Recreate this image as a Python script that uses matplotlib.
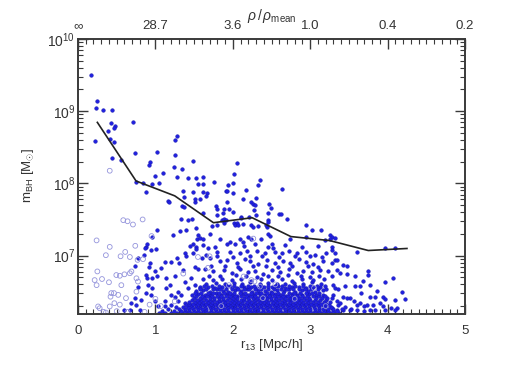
import matplotlib
matplotlib.use("Agg")
import matplotlib.pyplot as plt
from matplotlib.ticker import MultipleLocator, LogLocator, NullFormatter

plt.rcParams['font.family'] = ['Liberation Sans', 'DejaVu Sans']
plt.rcParams['mathtext.fontset'] = 'custom'
plt.rcParams['mathtext.rm'] = 'Liberation Sans'
plt.rcParams['mathtext.it'] = 'Liberation Sans:italic'
plt.rcParams['mathtext.bf'] = 'Liberation Sans:bold'

# ---------------- data ----------------
# median line (r13 bins, log10 m_BH)
line_r = [0.25, 0.75, 1.25, 1.75, 2.25, 2.75, 3.25, 3.75, 4.25]
line_logm = [8.845, 8.033, 7.827, 7.455, 7.524, 7.263, 7.208, 7.07, 7.098]

# top axis (overdensity) tick labels
top_ticks = [0, 1, 2, 3, 4, 5]
top_labels = ['\u221e', '28.7', '3.6', '1.0', '0.4', '0.2']

# sparse filled points (r13, log10 m)
sparse_r = [
    0.17, 0.25, 0.23, 0.32, 0.44, 0.43, 0.48, 0.465, 0.39, 0.71, 0.225, 0.41, 0.47,
    0.435, 0.56, 0.74, 1.25, 1.275, 1.015, 1.255, 0.93, 0.92, 1.235, 1.35, 1.48, 1.10,
    0.99, 1.28, 1.42, 1.53,
    0.75, 0.84, 0.88, 0.955, 1.045, 1.36, 1.49, 1.55, 1.16, 1.17, 1.37, 1.35, 1.37,
    1.51, 1.51, 1.42, 1.33, 1.47, 1.40, 1.32, 1.02, 1.53, 1.555, 1.23, 1.54, 1.485,
    1.45, 1.53, 0.875, 0.95, 0.89, 0.86, 0.94, 1.01, 0.85, 0.77, 0.73, 0.925, 0.92,
    1.12, 1.07, 1.0, 0.88, 0.895, 0.955, 1.02, 0.775, 0.91, 0.96, 0.88, 0.94, 0.73,
    0.82, 0.69, 0.755, 0.60, 0.67, 0.795, 0.99, 1.03, 1.13, 1.13, 1.205, 1.185, 1.14,
    1.14, 1.25, 1.20, 1.28, 1.31, 1.36, 1.38, 1.40, 1.485, 1.53, 1.51, 1.55, 1.46,
    1.38, 1.42, 1.51, 1.57, 1.29, 1.33, 1.25, 1.205, 1.29, 1.38,
    2.05, 2.02, 2.355, 2.33, 2.63, 1.76, 1.61, 1.62, 1.94, 2.0, 1.61, 1.67, 1.91,
    1.93, 2.0, 2.17, 2.13, 2.30, 1.66, 1.57, 1.92, 2.23, 2.26, 2.29, 2.47, 2.49,
    1.78, 1.80, 1.89, 1.95, 2.0, 2.27, 1.87, 2.46, 2.60, 2.62, 2.30, 1.61, 2.70,
    2.10, 2.11, 2.21, 1.79, 2.455, 2.46, 1.86, 1.89, 1.91, 2.01, 2.05,
    2.03, 2.07, 2.135, 2.24, 2.33, 2.44, 2.43, 2.26, 1.88, 1.73, 1.79, 2.45, 2.48,
    2.37, 2.29, 2.95, 2.95, 3.02, 3.135, 3.26, 3.28, 3.32, 3.26, 3.28, 2.74, 2.51,
    2.52, 3.19, 1.70, 1.83, 1.92, 2.03, 2.135, 2.24, 1.62, 1.77, 1.58, 1.62, 1.96,
    2.09, 2.19, 1.68,
    1.96, 2.09, 2.18, 2.31, 2.42, 2.55, 2.63, 2.72, 2.83, 2.95, 3.06, 3.21, 3.32,
    1.79, 1.66, 1.60,
    1.70, 1.83, 1.92, 2.05, 2.16, 2.22, 2.33, 2.44, 2.55, 2.65, 2.74, 2.85, 2.95,
    3.04, 3.17, 3.28,
    1.64, 1.75, 1.88, 1.985, 2.09, 2.20, 2.29, 2.39, 2.50, 2.61, 2.72, 2.83, 2.91,
    3.02, 3.13, 3.23,
    3.97, 4.09, 3.60, 3.28, 3.32, 3.34, 3.43, 3.47, 3.35, 3.38, 3.48, 3.28, 3.75,
    3.75, 3.58, 4.07, 3.96, 3.68, 3.77, 3.45, 3.58, 3.64, 3.30, 3.32, 3.36, 3.86,
    4.19, 3.65, 3.77, 3.84, 3.94, 3.97, 4.10, 4.22, 3.51, 3.47, 3.43, 3.30, 3.28,
    3.34, 3.36, 3.38, 3.56, 3.60, 3.64, 3.69, 3.73, 3.815, 3.90, 3.94, 4.05, 4.12,
    3.43, 3.51, 3.60, 3.69, 3.77, 3.84, 3.28, 3.34, 4.10, 3.97,
]
sparse_logm = [
    9.50, 9.14, 9.04, 9.01, 9.02, 8.84, 8.80, 8.77, 8.72, 8.85, 8.59, 8.62, 8.58,
    8.35, 8.33, 8.42, 8.60, 8.65, 8.44, 8.39, 8.30, 8.26, 8.23, 8.20, 8.31, 8.15,
    8.10, 8.09, 8.07, 8.08,
    8.02, 8.005, 7.885, 7.99, 8.0, 7.90, 7.88, 7.99, 7.76, 7.74, 7.81, 7.68, 7.67,
    7.74, 7.785, 7.49, 7.51, 7.51, 7.35, 7.335, 7.35, 7.375, 7.28, 7.28, 7.235, 7.165,
    7.135, 7.12, 7.12, 7.26, 7.165, 7.10, 7.075, 7.09, 7.005, 6.96, 6.86, 6.89, 6.845,
    6.905, 6.83, 6.78, 6.73, 6.695, 6.695, 6.72, 6.57, 6.59, 6.545, 6.48, 6.455, 6.41,
    6.39, 6.34, 6.32, 6.25, 6.25, 6.25, 6.365, 6.295, 6.365, 6.295, 6.32, 6.59, 6.545,
    6.685, 6.71, 6.91, 6.96, 6.89, 6.80, 7.04, 6.995, 7.03, 7.085, 6.845, 6.82, 6.685,
    6.64, 6.545, 6.59, 6.545, 6.50, 6.455, 6.43, 6.455, 6.365, 6.34,
    8.285, 8.13, 8.05, 7.98, 7.92, 8.025, 7.99, 8.085, 7.98, 8.0, 7.88, 7.87, 7.89,
    7.89, 7.87, 7.91, 7.785, 7.80, 7.83, 7.785, 7.74, 7.74, 7.71, 7.70, 7.71, 7.66,
    7.68, 7.65, 7.645, 7.64, 7.61, 7.625, 7.59, 7.59, 7.58, 7.58, 7.565, 7.59, 7.51,
    7.54, 7.525, 7.54, 7.555, 7.49, 7.47, 7.49, 7.50, 7.49, 7.455, 7.455,
    7.43, 7.43, 7.44, 7.43, 7.41, 7.40, 7.42, 7.40, 7.45, 7.41, 7.42, 7.30, 7.27,
    7.225, 7.165, 7.42, 7.26, 7.36, 7.36, 7.28, 7.26, 7.25, 7.225, 7.12, 7.235, 7.165,
    7.11, 7.21, 7.30, 7.225, 7.165, 7.165, 7.19, 7.235, 7.145, 7.12, 7.245, 7.235, 7.19,
    7.235, 7.26, 7.105,
    7.05, 7.03, 7.06, 7.06, 7.03, 7.05, 7.03, 7.06, 7.03, 7.05, 7.01, 7.03, 7.03,
    7.05, 7.005, 6.96,
    6.96, 6.92, 6.94, 6.90, 6.95, 6.92, 6.88, 6.94, 6.90, 6.93, 6.89, 6.95, 6.91,
    6.88, 6.93, 6.90,
    6.82, 6.78, 6.80, 6.76, 6.81, 6.77, 6.79, 6.75, 6.80, 6.77, 6.81, 6.76, 6.79,
    6.77, 6.80, 6.78,
    7.11, 7.10, 7.05, 7.075, 6.94, 6.94, 6.87, 6.85, 6.80, 6.755, 6.74, 6.71, 6.785,
    6.73, 6.71, 6.695, 6.64, 6.65, 6.59, 6.58, 6.585, 6.58, 6.59, 6.545, 6.53, 6.51,
    6.50, 6.48, 6.42, 6.43, 6.43, 6.40, 6.38, 6.395, 6.41, 6.41, 6.43, 6.455, 6.41,
    6.365, 6.32, 6.34, 6.365, 6.32, 6.34, 6.295, 6.32, 6.32, 6.34, 6.295, 6.27, 6.28,
    6.24, 6.24, 6.24, 6.235, 6.24, 6.24, 6.27, 6.25, 6.25, 6.24,
]

# dense lower band: rows of r13 values and each row's log10 m
dense_row_logm = [6.21, 6.235, 6.26, 6.285, 6.31, 6.335, 6.36, 6.385, 6.41,
                  6.435, 6.485, 6.535, 6.585]
dense_row_r = [
    [1.05, 1.12, 1.20, 1.28, 1.35, 1.41, 1.46, 1.52, 1.57, 1.63, 1.69, 1.74, 1.80, 1.85,
     1.91, 1.97, 2.02, 2.08, 2.13, 2.19, 2.25, 2.30, 2.36, 2.41, 2.47, 2.53, 2.58, 2.64,
     2.69, 2.75, 2.81, 2.86, 2.92, 2.97, 3.03, 3.09, 3.14, 3.20, 3.26, 3.31, 3.37],
    [1.08, 1.24, 1.33, 1.38, 1.44, 1.50, 1.55, 1.61, 1.66, 1.72, 1.78, 1.83, 1.89, 1.94,
     2.00, 2.06, 2.11, 2.17, 2.22, 2.28, 2.33, 2.39, 2.45, 2.50, 2.56, 2.61, 2.67, 2.72,
     2.78, 2.84, 2.89, 2.95, 3.00, 3.06, 3.12, 3.18, 3.23, 3.29, 3.35],
    [1.16, 1.31, 1.38, 1.44, 1.49, 1.55, 1.60, 1.66, 1.72, 1.77, 1.83, 1.88, 1.94, 2.00,
     2.05, 2.11, 2.16, 2.22, 2.28, 2.33, 2.39, 2.44, 2.50, 2.56, 2.61, 2.67, 2.72, 2.78,
     2.84, 2.89, 2.95, 3.00, 3.06, 3.12, 3.17, 3.23, 3.30, 3.41, 3.53],
    [1.27, 1.36, 1.42, 1.47, 1.53, 1.58, 1.64, 1.70, 1.75, 1.81, 1.86, 1.92, 1.98, 2.03,
     2.09, 2.14, 2.20, 2.26, 2.31, 2.37, 2.43, 2.48, 2.54, 2.59, 2.65, 2.71, 2.76, 2.82,
     2.87, 2.93, 2.99, 3.05, 3.11, 3.19, 3.27, 3.45],
    [1.40, 1.46, 1.52, 1.58, 1.63, 1.69, 1.75, 1.80, 1.86, 1.91, 1.97, 2.03, 2.08, 2.14,
     2.19, 2.25, 2.31, 2.36, 2.42, 2.47, 2.53, 2.59, 2.64, 2.70, 2.75, 2.81, 2.87, 2.92,
     2.98, 3.04, 3.10, 3.17, 3.24],
    [1.43, 1.49, 1.55, 1.60, 1.66, 1.72, 1.77, 1.83, 1.88, 1.94, 2.00, 2.05, 2.11, 2.17,
     2.22, 2.28, 2.33, 2.39, 2.44, 2.50, 2.56, 2.61, 2.67, 2.73, 2.78, 2.84, 2.90, 2.95,
     3.01, 3.07, 3.14, 3.21],
    [1.44, 1.51, 1.56, 1.62, 1.68, 1.73, 1.79, 1.84, 1.90, 1.96, 2.01, 2.07, 2.12, 2.18,
     2.24, 2.29, 2.35, 2.40, 2.46, 2.52, 2.57, 2.63, 2.68, 2.74, 2.80, 2.85, 2.91, 2.97,
     3.03, 3.10, 3.18, 3.25],
    [1.47, 1.54, 1.59, 1.65, 1.71, 1.76, 1.82, 1.87, 1.93, 1.99, 2.04, 2.10, 2.15, 2.21,
     2.27, 2.32, 2.38, 2.43, 2.49, 2.55, 2.60, 2.66, 2.71, 2.77, 2.83, 2.88, 2.94, 3.00,
     3.06, 3.13, 3.20],
    [1.50, 1.57, 1.63, 1.70, 1.76, 1.82, 1.87, 1.95, 2.00, 2.06, 2.14, 2.20, 2.26, 2.31,
     2.38, 2.44, 2.49, 2.56, 2.62, 2.67, 2.74, 2.79, 2.86, 2.92, 2.99, 3.07, 3.15, 3.22],
    [1.53, 1.60, 1.67, 1.73, 1.79, 1.85, 1.91, 1.97, 2.03, 2.10, 2.17, 2.23, 2.29, 2.35,
     2.41, 2.47, 2.53, 2.59, 2.65, 2.71, 2.77, 2.83, 2.89, 2.96, 3.03, 3.11, 3.19],
    [1.51, 1.59, 1.68, 1.75, 1.82, 1.89, 1.96, 2.02, 2.09, 2.16, 2.23, 2.30, 2.37, 2.44,
     2.51, 2.58, 2.65, 2.72, 2.79, 2.87, 2.94, 3.02, 3.12],
    [1.57, 1.66, 1.74, 1.83, 1.91, 1.99, 2.07, 2.14, 2.21, 2.29, 2.37, 2.45, 2.53, 2.62,
     2.70, 2.78, 2.86, 2.93, 3.01, 3.10, 3.21],
    [1.63, 1.73, 1.82, 1.92, 2.02, 2.10, 2.19, 2.27, 2.36, 2.45, 2.54, 2.63, 2.72, 2.81,
     2.91, 3.00, 3.09, 3.19],
]

# gappier part of the band above it
upper_band_r = [
    1.47, 1.55, 1.64, 1.71, 1.78, 1.85, 1.92, 1.99, 2.05, 2.13, 2.19, 2.27, 2.34, 2.40,
    2.48, 2.55, 2.61, 2.69, 2.76, 2.83, 2.90, 2.98, 3.08, 3.17,
    1.53, 1.62, 1.70, 1.79, 1.87, 1.94, 2.03, 2.10, 2.18, 2.25, 2.33, 2.42, 2.49, 2.57,
    2.66, 2.73, 2.81, 2.89, 2.97, 3.06, 3.16,
    1.58, 1.68, 1.77, 1.86, 1.96, 2.06, 2.14, 2.23, 2.31, 2.40, 2.50, 2.58, 2.67, 2.76,
    2.85, 2.95, 3.04, 3.13,
    1.66, 1.78, 1.90, 2.01, 2.12, 2.22, 2.35, 2.45, 2.57, 2.68, 2.79, 2.91, 3.02, 3.14,
    1.61, 1.74, 1.86, 1.99, 2.10, 2.24, 2.37, 2.51, 2.63, 2.77, 2.90, 3.03, 3.18,
    1.69, 1.83, 2.04, 2.17, 2.31, 2.46, 2.58, 2.71, 2.88, 3.00, 3.12,
    1.72, 1.90, 2.07, 2.26, 2.43, 2.58, 2.77, 2.97, 3.10,
    1.80, 2.00, 2.22, 2.38, 2.60, 2.80, 3.00, 3.15,
    2.15, 2.45, 2.67, 2.90, 3.10,
]
upper_band_logm = [
    6.46, 6.47, 6.45, 6.46, 6.48, 6.45, 6.47, 6.46, 6.44, 6.47, 6.46, 6.45, 6.48, 6.46,
    6.45, 6.47, 6.46, 6.44, 6.47, 6.46, 6.45, 6.47, 6.46, 6.45,
    6.51, 6.52, 6.50, 6.53, 6.51, 6.50, 6.52, 6.51, 6.53, 6.50, 6.52, 6.51, 6.50, 6.52,
    6.51, 6.53, 6.50, 6.52, 6.51, 6.50, 6.52,
    6.56, 6.57, 6.55, 6.56, 6.58, 6.55, 6.57, 6.56, 6.55, 6.57, 6.56, 6.58, 6.55, 6.57,
    6.56, 6.55, 6.57, 6.56,
    6.61, 6.62, 6.60, 6.62, 6.61, 6.63, 6.60, 6.62, 6.61, 6.60, 6.62, 6.61, 6.63, 6.60,
    6.67, 6.66, 6.68, 6.66, 6.67, 6.65, 6.68, 6.66, 6.67, 6.65, 6.68, 6.66, 6.67,
    6.72, 6.71, 6.73, 6.72, 6.70, 6.72, 6.71, 6.73, 6.72, 6.70, 6.72,
    6.85, 6.86, 6.84, 6.86, 6.85, 6.84, 6.86, 6.85, 6.84,
    6.99, 6.98, 7.00, 6.99, 6.98, 7.00, 6.99, 6.98,
    7.13, 7.12, 7.14, 7.12, 7.13,
]

# open (light) circles
open_r = [
    0.41, 0.585, 0.64, 0.71, 0.835, 0.95, 0.24, 0.74, 0.41, 0.36, 0.55, 0.61, 0.67,
    0.77, 0.84, 0.25, 0.215, 0.24, 0.31, 0.40, 0.495, 0.54, 0.60, 0.67, 0.56, 0.69,
    0.755, 0.775, 0.43, 0.465, 0.52, 0.42, 0.62, 0.47, 0.41, 0.54, 0.26, 0.28, 0.755,
    1.07, 0.925, 1.25, 2.265, 0.33, 0.36, 0.50, 0.64, 0.86, 1.00, 1.70, 1.68, 2.14,
    2.24, 2.28, 2.39, 1.95, 2.35, 1.55, 1.36, 1.85, 2.55, 2.80, 3.05, 3.20,
]
open_logm = [
    8.175, 7.49, 7.475, 7.43, 7.50, 7.27, 7.21, 7.135, 7.12, 7.005, 6.99, 7.05, 6.98,
    6.94, 6.95, 6.78, 6.66, 6.59, 6.675, 6.63, 6.73, 6.72, 6.74, 6.755, 6.59, 6.78,
    6.685, 6.64, 6.48, 6.48, 6.455, 6.43, 6.41, 6.34, 6.295, 6.32, 6.295, 6.27, 6.50,
    6.30, 6.32, 6.365, 7.235, 6.22, 6.21, 6.23, 6.22, 6.22, 6.40, 6.99, 6.83, 6.71,
    6.66, 6.64, 6.41, 6.59, 6.57, 6.98, 6.75, 6.30, 6.60, 6.40, 6.55, 6.30,
]

# ---------------- figure ----------------
fig = plt.figure(figsize=(5.18, 3.70), dpi=100)
ax = fig.add_axes([78/518, 1-314/370, (465-78)/518, (314-39)/370])

fill_r = list(sparse_r) + list(upper_band_r)
fill_m = [10**v for v in sparse_logm] + [10**v for v in upper_band_logm]
for row_r, lv in zip(dense_row_r, dense_row_logm):
    fill_r.extend(row_r)
    fill_m.extend([10**lv] * len(row_r))

ax.scatter(fill_r, fill_m, s=7, c='#2020e0', edgecolors='#1515a8',
           linewidths=0.3, zorder=2)
ax.scatter(open_r, [10**v for v in open_logm], s=12, facecolors='none',
           edgecolors='#9494dc', linewidths=0.6, zorder=3)
ax.plot(line_r, [10**v for v in line_logm], color='#222222', lw=1.2, zorder=4)

ax.set_yscale('log')
ax.set_xlim(0, 5)
ax.set_ylim(1.55e6, 1e10)

frame_col = '#3a3a3a'
for sp in ax.spines.values():
    sp.set_color(frame_col)
    sp.set_linewidth(1.2)

ax.xaxis.set_major_locator(MultipleLocator(1))
ax.xaxis.set_minor_locator(MultipleLocator(0.1))
ax.yaxis.set_major_locator(LogLocator(base=10, numticks=10))
ax.yaxis.set_minor_locator(LogLocator(base=10, subs=range(2, 10), numticks=20))
ax.yaxis.set_minor_formatter(NullFormatter())
ax.tick_params(axis='both', which='major', direction='in', length=7, width=1,
               color=frame_col, labelcolor='#333333', labelsize=9.5)
ax.tick_params(axis='both', which='minor', direction='in', length=3.5, width=0.8,
               color=frame_col)
ax.tick_params(axis='y', which='both', left=True, right=True)
ax.tick_params(axis='y', which='major', pad=2, labelsize=10)
ax.tick_params(axis='x', which='major', pad=8)

ax2 = ax.twiny()
ax2.set_xlim(0, 5)
ax2.set_xticks(top_ticks)
ax2.set_xticklabels(top_labels)
ax2.xaxis.set_minor_locator(MultipleLocator(0.1))
ax2.tick_params(axis='x', which='major', direction='in', length=7, width=1,
                color=frame_col, labelcolor='#333333', labelsize=9.5, pad=5)
ax2.tick_params(axis='x', which='minor', direction='in', length=3.5, width=0.8,
                color=frame_col)
for sp in ax2.spines.values():
    sp.set_color(frame_col)
    sp.set_linewidth(1.2)

fig.text(272/518, 1-16/370, r'$\rho\,/\,\rho_{\rm mean}$', ha='center', va='center',
         fontsize=10, color='#333333')
fig.text(272/518, 1-345/370, r'r$_{13}$ [Mpc/h]', ha='center', va='center',
         fontsize=9.5, color='#333333')
fig.text(28/518, 1-175/370, r'm$_{\rm BH}$ [M$_{\odot}$]', ha='center', va='center',
         rotation=90, fontsize=9.5, color='#333333')

fig.savefig('out.png', dpi=100)
